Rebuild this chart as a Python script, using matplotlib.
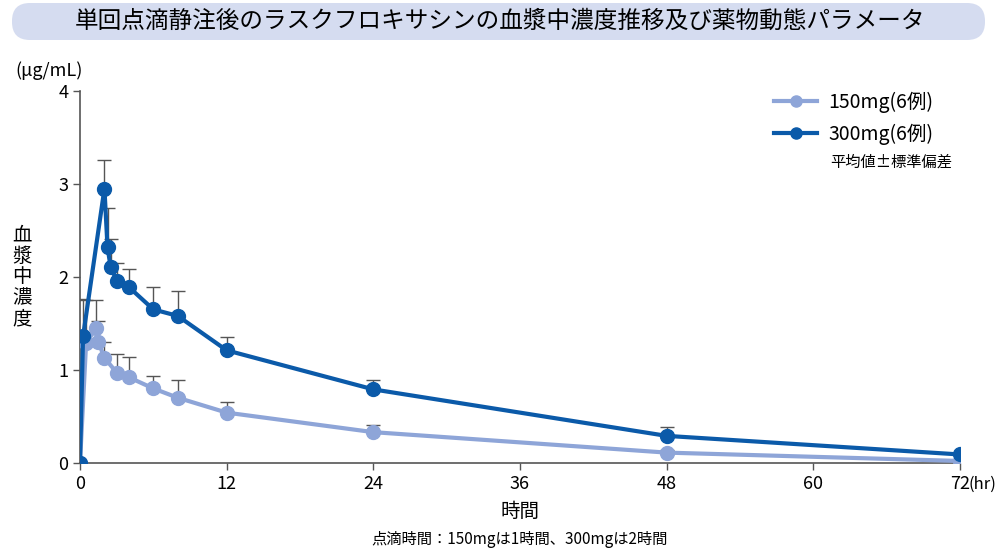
import matplotlib.pyplot as plt
from matplotlib.patches import FancyBboxPatch

plt.rcParams['font.family'] = ['Noto Sans CJK JP', 'DejaVu Sans']

# 150mg (6例)
t_150 = [0, 0.5, 1.33, 1.5, 2, 3, 4, 6, 8, 12, 24, 48, 72]
c_150 = [0, 1.29, 1.45, 1.30, 1.13, 0.97, 0.92, 0.80, 0.70, 0.54, 0.33, 0.11, 0.02]
sd_150 = [0, 0.46, 0.30, 0.23, 0.17, 0.20, 0.22, 0.13, 0.19, 0.11, 0.08, 0.03, 0.0]

# 300mg (6例)
t_300 = [0, 0.25, 2, 2.25, 2.5, 3, 4, 6, 8, 12, 24, 48, 72]
c_300 = [0, 1.36, 2.95, 2.32, 2.11, 1.96, 1.89, 1.65, 1.58, 1.21, 0.79, 0.29, 0.09]
sd_300 = [0, 0.40, 0.31, 0.42, 0.30, 0.19, 0.19, 0.24, 0.27, 0.14, 0.10, 0.10, 0.0]

x_ticks = [0, 12, 24, 36, 48, 60, 72]
y_ticks = [0, 1, 2, 3, 4]

light = '#8ea5d8'
dark = '#0b5aa9'
grey = '#555555'

fig = plt.figure(figsize=(10, 5.51), dpi=100)

# タイトル（ピクセル座標の背景用axes）
bg = fig.add_axes([0, 0, 1, 1])
bg.set_xlim(0, 1000)
bg.set_ylim(551, 0)
bg.axis('off')
box = FancyBboxPatch((12, 3), 973, 37,
                     boxstyle='round,pad=0,rounding_size=18',
                     facecolor='#d5dcf0', edgecolor='none')
bg.add_patch(box)
bg.text(500, 21, '単回点滴静注後のラスクフロキサシンの血漿中濃度推移及び薬物動態パラメータ',
        fontsize=17, ha='center', va='center')

ax = fig.add_axes([0.08, 0.16, 0.88, 0.675])
ax.patch.set_visible(False)

# 誤差棒（上側のみ）
ax.errorbar(t_150, c_150, yerr=[[0] * len(sd_150), sd_150], fmt='none',
            ecolor=grey, elinewidth=1, capsize=5, capthick=1, zorder=2)
ax.errorbar(t_300, c_300, yerr=[[0] * len(sd_300), sd_300], fmt='none',
            ecolor=grey, elinewidth=1, capsize=5, capthick=1, zorder=2)

ax.plot(t_150, c_150, color=light, lw=3, marker='o', ms=10,
        label='150mg(6例)', zorder=3)
ax.plot(t_300, c_300, color=dark, lw=3, marker='o', ms=10,
        label='300mg(6例)', zorder=4)

ax.set_xlim(0, 72)
ax.set_ylim(0, 4)
ax.set_xticks(x_ticks)
ax.set_yticks(y_ticks)
ax.tick_params(labelsize=13, color=grey, length=5, width=1)
for s in ['top', 'right']:
    ax.spines[s].set_visible(False)
for s in ['left', 'bottom']:
    ax.spines[s].set_color(grey)
    ax.spines[s].set_linewidth(1.2)

bg.text(969, 484, '(hr)', fontsize=12, va='center', ha='left')
bg.text(15, 71, '(μg/mL)', fontsize=13, va='center', ha='left')
bg.text(12, 277, '血\n漿\n中\n濃\n度', fontsize=14, va='center', ha='left',
        linespacing=1.0)
bg.text(520, 511, '時間', fontsize=14, ha='center', va='center')
bg.text(520, 539, '点滴時間：150mgは1時間、300mgは2時間', fontsize=11,
        ha='center', va='center')

ax.legend(loc='upper right', bbox_to_anchor=(0.99, 1.045), frameon=False,
          fontsize=14, handlelength=2.2, handletextpad=0.6,
          markerscale=0.8, labelspacing=0.55)
bg.text(830, 162, '平均値±標準偏差', fontsize=11, ha='left', va='center')

fig.savefig('out.png')
